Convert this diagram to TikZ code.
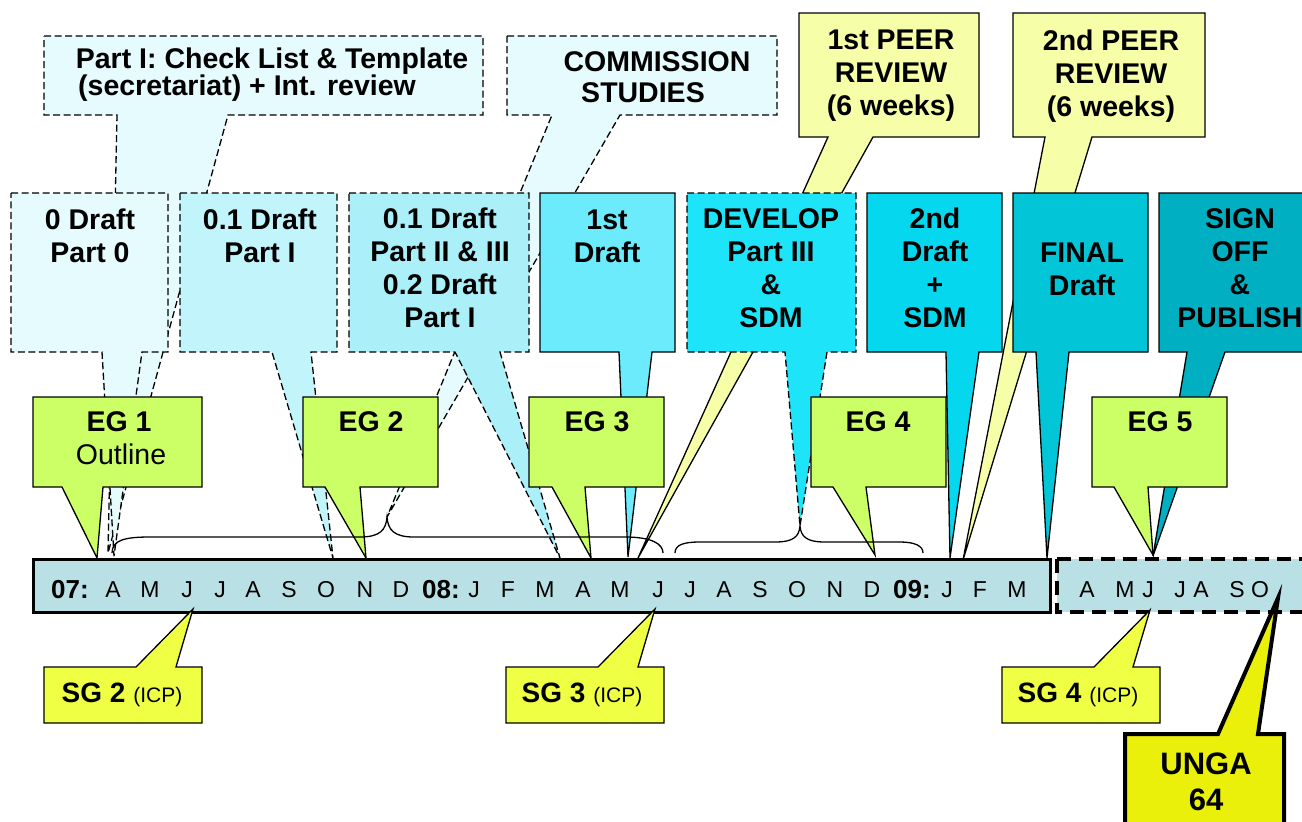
\documentclass[tikz,border=0pt]{standalone}
\usepackage{fontspec}
\setmainfont{Liberation Sans}
\definecolor{cA}{HTML}{E6FBFE}
\definecolor{cB}{HTML}{C2F5FB}
\definecolor{cC}{HTML}{ABEFF8}
\definecolor{cD}{HTML}{6CEBFD}
\definecolor{cE}{HTML}{1EE4FA}
\definecolor{cF}{HTML}{05D8EE}
\definecolor{cG}{HTML}{03C5D8}
\definecolor{cH}{HTML}{01AFC3}
\definecolor{egc}{HTML}{CCFF66}
\definecolor{peerc}{HTML}{F6FFA8}
\definecolor{sgc}{HTML}{EEFF44}
\definecolor{ungac}{HTML}{EAF00A}
\definecolor{barc}{HTML}{B9E0E4}
% callout with pointer below: style, x1, y1, x2, y2, base1, base2, tipx, tipy
\newcommand{\caldown}[9]{\path[#1] (#2,#3) -- (#4,#3) -- (#4,#5) -- (#7,#5) -- (#8,#9) -- (#6,#5) -- (#2,#5) -- cycle;}
% callout with pointer above
\newcommand{\calup}[9]{\path[#1] (#2,#3) -- (#6,#3) -- (#8,#9) -- (#7,#3) -- (#4,#3) -- (#4,#5) -- (#2,#5) -- cycle;}
\begin{document}
\begin{tikzpicture}[x=1pt,y=-1pt,
  dashbox/.style={draw=black, line width=1.3pt, dash pattern=on 7pt off 3.5pt},
  solidbox/.style={draw=black, line width=1.3pt},
  txt/.style={font=\fontsize{28.5}{33}\selectfont\bfseries, align=center, inner sep=0pt},
  regtxt/.style={font=\fontsize{28.5}{33}\selectfont, align=center, inner sep=0pt},
  month/.style={font=\fontsize{23}{26}\selectfont, anchor=base, inner sep=0pt},
  yr/.style={font=\fontsize{26}{28}\selectfont\bfseries, anchor=base, inner sep=0pt},
  bracestyle/.style={draw=black, line width=1.3pt},
  sgtxt/.style={font=\fontsize{28}{32}\selectfont, anchor=base, inner sep=0pt}]
\useasboundingbox (0,0) rectangle (1302,822);
\clip (0,0) rectangle (1302,822);
\fill[white] (0,0) rectangle (1302,822);

% top row
\caldown{fill=cA, dashbox}{44}{36}{483}{115}{117}{228}{108}{553}
\caldown{fill=cA, dashbox}{507}{36}{777}{115}{552}{620}{387}{517}
\caldown{fill=peerc, solidbox}{799}{13}{979}{137}{828}{873}{638}{558}
\caldown{fill=peerc, solidbox}{1013}{13}{1205}{137}{1045}{1092}{963}{560}

% second row
\caldown{fill=cA, dashbox}{11}{193}{168}{352}{102}{142}{114}{556}
\caldown{fill=cB, dashbox}{180}{193}{337}{352}{272}{311}{333}{558}
\caldown{fill=cC, dashbox}{349}{193}{529}{352}{455}{500}{560}{558}
\caldown{fill=cD, solidbox}{540}{193}{675}{352}{619}{652}{628}{557}
\caldown{fill=cE, dashbox}{687}{193}{856}{352}{785}{827}{800}{526}
\caldown{fill=cF, solidbox}{867}{193}{1002}{352}{946}{979}{950}{558}
\caldown{fill=cG, solidbox}{1013}{193}{1148}{352}{1036}{1069}{1047}{558}
\caldown{fill=cH, solidbox}{1159}{193}{1330}{352}{1187}{1225}{1153}{556}

% EG row
\caldown{fill=egc, solidbox}{33}{397}{202}{487}{62}{103}{97}{558}
\caldown{fill=egc, solidbox}{303}{397}{438}{487}{325}{360}{366}{558}
\caldown{fill=egc, solidbox}{529}{397}{664}{487}{552}{585}{591}{558}
\caldown{fill=egc, solidbox}{811}{397}{946}{487}{833}{866}{875}{555}
\caldown{fill=egc, solidbox}{1092}{397}{1227}{487}{1114}{1148}{1153}{555}

% braces
\draw[bracestyle] (112,553) .. controls (112,540) and (125,537) .. (150,537) -- (360,537)
  .. controls (380,537) and (386,530) .. (387,517)
  .. controls (388,530) and (394,537) .. (414,537) -- (625,537)
  .. controls (652,537) and (663,544) .. (663,553);
\draw[bracestyle] (675,553) .. controls (675,545) and (683,542) .. (700,542) -- (775,542)
  .. controls (793,542) and (799,537) .. (800,526)
  .. controls (801,537) and (807,542) .. (825,542) -- (900,542)
  .. controls (915,542) and (923,546) .. (923,553);

% timeline bar
\draw[fill=barc, draw=black, line width=3pt] (33,559) rectangle (1050,612);
\draw[fill=barc, draw=black, line width=4pt, dash pattern=on 14pt off 8pt] (1057,559) rectangle (1330,612);

% SG and UNGA
\calup{fill=sgc, solidbox}{44}{667}{202}{723}{136}{176}{193}{609}
\calup{fill=sgc, solidbox}{506}{667}{664}{723}{598}{638}{655}{609}
\calup{fill=sgc, solidbox}{1002}{667}{1160}{723}{1094}{1133}{1150}{610}
\calup{fill=ungac, draw=black, line width=4pt}{1125}{734}{1284}{840}{1218}{1258}{1278}{598}

% texts top
\node[txt] (t1a) at (272,61) {Part I: Check List \& Template};
\node[txt] (t1b) at (247,88) {(secretariat) + Int. review};
\node[txt] (t2a) at (657,62) {COMMISSION};
\node[txt] (t2b) at (643,93) {STUDIES};
\node[txt] (p1) at (891,76) {1st PEER\\REVIEW\\(6 weeks)};
\node[txt] (p2) at (1111,76) {2nd PEER\\REVIEW\\(6 weeks)};

% texts second row
\node[txt] (d0) at (90,236) {0 Draft\\Part 0};
\node[txt] (d01) at (260,236) {0.1 Draft\\Part I};
\node[txt] (d01b) at (440,268) {0.1 Draft\\Part II \& III\\0.2 Draft\\Part I};
\node[txt] (fd) at (607,236) {1st\\Draft};
\node[txt] (dev) at (771,268) {DEVELOP\\Part III\\\&\\SDM};
\node[txt] (sd) at (935,268) {2nd\\Draft\\+\\SDM};
\node[txt] (fin) at (1082,269) {FINAL\\Draft};
\node[txt] (so) at (1240,268) {SIGN\\OFF\\\&\\PUBLISH};

% EG texts
\node[txt] (eg1) at (119,422) {EG 1};
\node[regtxt] (eg1b) at (121,454) {Outline};
\node[txt] (eg2) at (371,422) {EG 2};
\node[txt] (eg3) at (597,422) {EG 3};
\node[txt] (eg4) at (878,422) {EG 4};
\node[txt] (eg5) at (1160,422) {EG 5};

% months
\node[yr] (y07) at (70,598) {07:};
\node[yr] (y08) at (441,598) {08:};
\node[yr] (y09) at (912,598) {09:};
\foreach \mx/\ml [count=\i] in {113/A,150/M,187/J,220/J,253/A,289/S,326/O,365/N,401/D,
  474/J,508/F,545/M,583/A,620/M,658/J,690/J,724/A,760/S,797/O,835/N,872/D,
  947/J,980/F,1017/M,1087/A,1125/M,1148/J,1180/J,1201/A,1237/S,1260/O}
  \node[month] (m\i) at (\mx,597) {\ml};

% SG texts
\node[sgtxt] (sg2) at (122,702) {\textbf{SG 2} {\fontsize{21}{24}\selectfont (ICP)}};
\node[sgtxt] (sg3) at (582,702) {\textbf{SG 3} {\fontsize{21}{24}\selectfont (ICP)}};
\node[sgtxt] (sg4) at (1078,702) {\textbf{SG 4} {\fontsize{21}{24}\selectfont (ICP)}};
\node[txt, font=\fontsize{31}{36}\selectfont\bfseries] (unga) at (1206,782) {UNGA\\64};
\end{tikzpicture}
\end{document}
